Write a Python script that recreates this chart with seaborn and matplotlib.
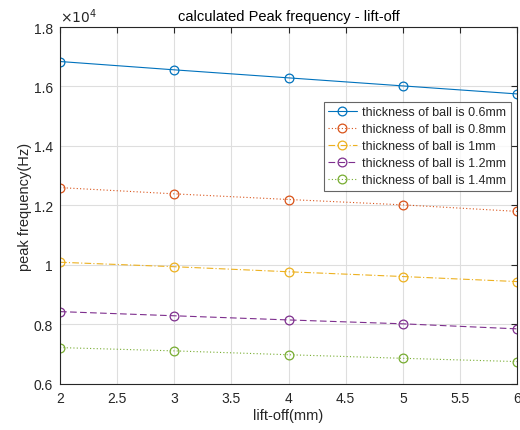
import matplotlib
matplotlib.use("Agg")
import matplotlib.pyplot as plt
import seaborn as sns
import pandas as pd
from matplotlib.ticker import FuncFormatter, MultipleLocator

# data
lift_off = [2, 3, 4, 5, 6]
f_06 = [16840, 16560, 16290, 16020, 15750]
f_08 = [12600, 12390, 12200, 12020, 11800]
f_10 = [10090, 9940, 9770, 9610, 9440]
f_12 = [8430, 8290, 8150, 8020, 7850]
f_14 = [7220, 7110, 6980, 6860, 6750]
labels = ["thickness of ball is 0.6mm", "thickness of ball is 0.8mm",
          "thickness of ball is 1mm", "thickness of ball is 1.2mm",
          "thickness of ball is 1.4mm"]

colors = ["#0072BD", "#D95319", "#EDB120", "#7E2F8E", "#77AC30"]
styles = ["-", (0, (1, 2)), (0, (6, 2, 1, 2)), (0, (6, 3)), (0, (1, 2))]

sns.set_style("white")
plt.rcParams['font.family'] = ['Liberation Sans', 'DejaVu Sans']

fig = plt.figure(figsize=(5.2, 4.31), dpi=100)
ax = fig.add_axes([0.1155, 0.107, 0.879, 0.828])

for vals, lab, c, ls in zip([f_06, f_08, f_10, f_12, f_14], labels, colors, styles):
    df = pd.DataFrame({"lift": lift_off, "f": vals})
    sns.lineplot(data=df, x="lift", y="f", ax=ax, color=c, linestyle=ls, lw=0.8,
                 marker="o", ms=6.3, mfc="none", mec=c, mew=0.9, label=lab)

ax.set_xlim(2, 6)
ax.set_ylim(6000, 18000)
ax.xaxis.set_major_locator(MultipleLocator(0.5))
ax.yaxis.set_major_locator(MultipleLocator(2000))
ax.xaxis.set_major_formatter(FuncFormatter(lambda v, p: f"{v:g}"))
ax.yaxis.set_major_formatter(FuncFormatter(lambda v, p: f"{v/1e4:g}"))
ax.grid(True, color="#dedede", lw=0.8)
ax.tick_params(direction="in", top=True, right=True, length=4, labelsize=10,
               color="#262626", labelcolor="#262626", pad=5)
for s in ax.spines.values():
    s.set_color("#262626")
    s.set_linewidth(0.8)

ax.text(0.0, 1.005, r"$\times10^4$", transform=ax.transAxes, fontsize=10,
        color="#262626", va="bottom", ha="left")
ax.set_title("calculated Peak frequency - lift-off", fontsize=10.5, color="black", pad=5)
ax.set_xlabel("lift-off(mm)", fontsize=10.5, color="#262626", labelpad=2)
ax.set_ylabel("peak frequency(Hz)", fontsize=10.5, color="#262626", labelpad=1)

leg = ax.legend(loc="upper right", bbox_to_anchor=(0.986, 0.79), fontsize=9,
                frameon=True, fancybox=False, edgecolor="#404040", borderpad=0.35,
                labelspacing=0.4, handlelength=2.3, handletextpad=0.45,
                borderaxespad=0)
leg.get_frame().set_linewidth(0.8)

fig.savefig("out.png", dpi=100)
